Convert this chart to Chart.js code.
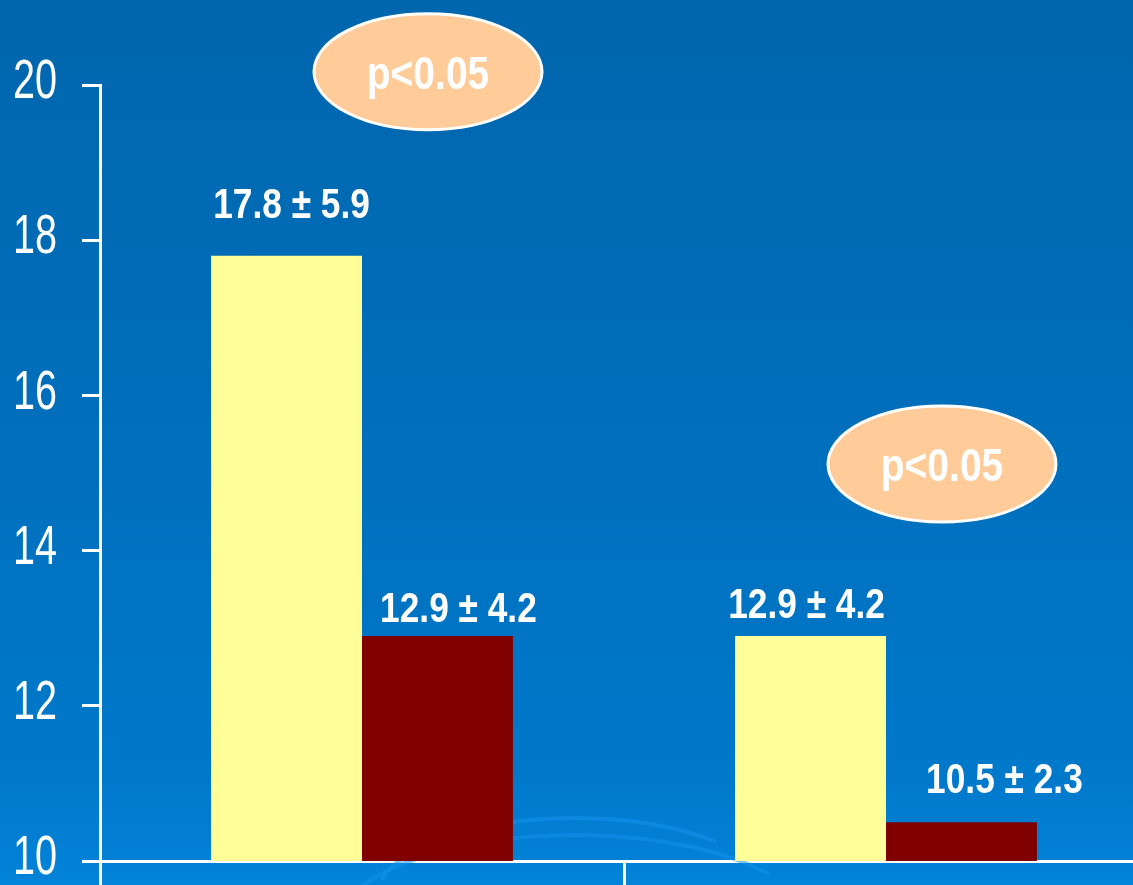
<!DOCTYPE html>
<html>
<head>
<meta charset="utf-8">
<script src="https://cdn.jsdelivr.net/npm/chart.js@4.4.1/dist/chart.umd.min.js"></script>
<style>
  html, body {
    margin: 0; padding: 0; width: 1133px; height: 885px; overflow: hidden;
    background: linear-gradient(to bottom, #0066ad 0%, #006fbc 50%, #0079cb 88%, #0383d9 100%);
  }
  #wrap { position: absolute; left: 0; top: 0; width: 1148px; height: 885px; }
</style>
</head>
<body>
<div id="wrap"><canvas id="c" width="1148" height="885"></canvas></div>
<script>
// ---- data ----
const categories = ['Group 1', 'Group 2'];
const seriesNames = ['Series A', 'Series B'];
const seriesAMean = [17.8, 12.9];
const seriesASD = [5.9, 4.2];
const seriesBMean = [12.9, 10.5];
const seriesBSD = [4.2, 2.3];
const pLabels = ['p<0.05', 'p<0.05'];
const yTicks = [10, 12, 14, 16, 18, 20];

// ---- styling ----
const FAMILY = '"Liberation Sans", Arial, sans-serif';
const barColors = ['#ffff99', '#800000'];
// label placement relative to the top of its bar (pixels)
const labelOffsets = [
  [{ dx: 5, dy: 38 }, { dx: -4, dy: 18 }],
  [{ dx: 21, dy: 14 }, { dx: 43, dy: 29 }]
];
// bubble placement relative to the group centre / tallest bar
const bubbleOffsets = [{ dx: 66, dy: 184 }, { dx: 56, dy: 172 }];

// draws horizontally condensed text (narrow face)
function narrowText(ctx, text, x, y, font, squeeze, align, baseline) {
  ctx.save();
  ctx.translate(x, y);
  ctx.scale(squeeze, 1);
  ctx.font = font;
  ctx.textAlign = align;
  ctx.textBaseline = baseline;
  ctx.fillStyle = '#ffffff';
  ctx.fillText(text, 0, 0);
  ctx.restore();
}

const annotations = {
  id: 'annotations',
  beforeDatasetsDraw(chart) {
    // faint decorative swirls near the baseline
    const ctx = chart.ctx;
    ctx.save();
    ctx.strokeStyle = 'rgba(20, 145, 235, 0.55)';
    ctx.lineWidth = 4;
    ctx.beginPath();
    ctx.ellipse(575, 900, 200, 82, 0, Math.PI * 1.08, Math.PI * 1.75);
    ctx.stroke();
    ctx.beginPath();
    ctx.ellipse(575, 930, 240, 95, 0, Math.PI * 1.02, Math.PI * 1.8);
    ctx.stroke();
    ctx.restore();
  },
  afterDatasetsDraw(chart) {
    const ctx = chart.ctx;
    const means = [seriesAMean, seriesBMean];
    const sds = [seriesASD, seriesBSD];
    means.forEach((arr, di) => {
      chart.getDatasetMeta(di).data.forEach((bar, i) => {
        const o = labelOffsets[di][i];
        narrowText(ctx, arr[i].toFixed(1) + ' \u00b1 ' + sds[di][i].toFixed(1),
          bar.x + o.dx, bar.y - o.dy, 'bold 42px ' + FAMILY, 0.84, 'center', 'alphabetic');
      });
    });
  },
  afterDraw(chart) {
    const ctx = chart.ctx;
    const xs = chart.scales.x;
    const ys = chart.scales.y;
    // y-axis tick labels in a condensed face
    ys.ticks.forEach(t => {
      narrowText(ctx, String(t.value), ys.left + ys.width - 18 - 25, ys.getPixelForValue(t.value) - 2,
        '55px ' + FAMILY, 0.72, 'right', 'middle');
    });
    // significance bubbles
    pLabels.forEach((txt, i) => {
      const tops = [0, 1].map(di => chart.getDatasetMeta(di).data[i].y);
      const cx = xs.getPixelForValue(i) + bubbleOffsets[i].dx;
      const cy = Math.min(...tops) - bubbleOffsets[i].dy;
      ctx.save();
      ctx.beginPath();
      ctx.ellipse(cx, cy, 114, 58, 0, 0, Math.PI * 2);
      ctx.fillStyle = '#ffcc99';
      ctx.fill();
      ctx.lineWidth = 3;
      ctx.strokeStyle = '#ffffff';
      ctx.stroke();
      ctx.restore();
      narrowText(ctx, txt, cx, cy + 17, 'bold 47px ' + FAMILY, 0.83, 'center', 'alphabetic');
    });
  }
};

new Chart(document.getElementById('c'), {
  type: 'bar',
  data: {
    labels: categories,
    datasets: [
      { label: seriesNames[0], data: seriesAMean, backgroundColor: barColors[0], borderWidth: 0 },
      { label: seriesNames[1], data: seriesBMean, backgroundColor: barColors[1], borderWidth: 0 }
    ]
  },
  options: {
    responsive: false,
    animation: false,
    devicePixelRatio: 1,
    layout: { padding: { top: 85, right: 0, bottom: 0, left: 0 } },
    datasets: { bar: { barPercentage: 1.0, categoryPercentage: 0.576 } },
    plugins: { legend: { display: false }, tooltip: { enabled: false } },
    scales: {
      x: {
        offset: true,
        ticks: { display: false },
        grid: { offset: true, drawOnChartArea: false, color: '#ffffff', lineWidth: 3, tickLength: 24 },
        border: { color: '#ffffff', width: 3 },
        afterFit(s) { s.height = 24; }
      },
      y: {
        min: 10,
        max: 20,
        afterBuildTicks(s) { s.ticks = yTicks.map(v => ({ value: v })); },
        ticks: { display: false },
        grid: { drawOnChartArea: false, color: '#ffffff', lineWidth: 3, tickLength: 18 },
        border: { color: '#ffffff', width: 3 },
        afterFit(s) { s.width = 100; }
      }
    }
  },
  plugins: [annotations]
});
</script>
</body>
</html>
